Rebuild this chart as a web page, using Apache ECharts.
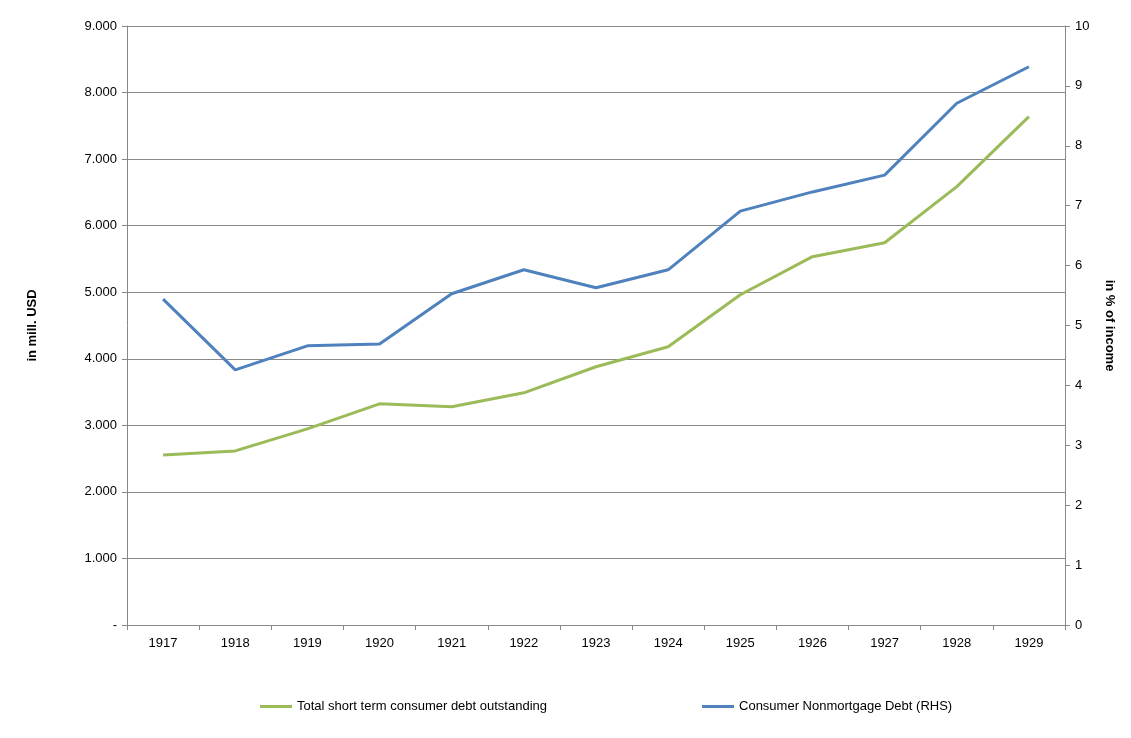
<!DOCTYPE html>
<html><head><meta charset="utf-8">
<script src="https://cdn.jsdelivr.net/npm/echarts@6/dist/echarts.min.js"></script>
<style>body{margin:0;background:#fff}#c{width:1131px;height:738px}</style>
</head><body><div id="c"></div>
<script>
var years = ['1917','1918','1919','1920','1921','1922','1923','1924','1925','1926','1927','1928','1929'];
var shortTermDebt = [2556,2616,2947,3323,3278,3489,3880,4180,4962,5534,5744,6586,7639];
var nonmortgagePct = [5.44,4.26,4.66,4.69,5.53,5.93,5.63,5.93,6.91,7.23,7.51,8.71,9.32];

var chart = echarts.init(document.getElementById('c'));
var txt = {color:'#000', fontFamily:'Liberation Sans', fontSize:13};
chart.setOption({
  animation:false,
  grid:{left:127, right:66, top:26, bottom:113},
  legend:{bottom:20, left:255, itemGap:155, itemWidth:32, itemHeight:3, icon:'rect',
    textStyle:txt,
    data:['Total short term consumer debt outstanding','Consumer Nonmortgage Debt (RHS)']},
  xAxis:{type:'category', data:years, boundaryGap:true,
    axisLine:{lineStyle:{color:'#888'}}, axisTick:{show:true, lineStyle:{color:'#888'}},
    axisLabel:Object.assign({margin:12}, txt)},
  yAxis:[
    {type:'value', min:0, max:9000, interval:1000, name:'in mill. USD',
     nameLocation:'middle', nameGap:88, nameRotate:90,
     nameTextStyle:{fontWeight:'bold', fontSize:13, fontFamily:'Liberation Sans', color:'#000'},
     axisLine:{show:true, lineStyle:{color:'#888'}}, axisTick:{show:true, lineStyle:{color:'#888'}},
     splitLine:{lineStyle:{color:'#8a8a8a'}},
     axisLabel:Object.assign({margin:10, formatter:function(v){return v===0?'-':(v/1000).toFixed(3);}}, txt)},
    {type:'value', min:0, max:10, interval:1, name:'in % of income',
     nameLocation:'middle', nameGap:38, nameRotate:-90,
     nameTextStyle:{fontWeight:'bold', fontSize:13, fontFamily:'Liberation Sans', color:'#000'},
     axisLine:{show:true, lineStyle:{color:'#888'}}, axisTick:{show:true, lineStyle:{color:'#888'}},
     splitLine:{show:false}, axisLabel:Object.assign({margin:10}, txt)}
  ],
  series:[
    {name:'Total short term consumer debt outstanding', type:'line', data:shortTermDebt,
     yAxisIndex:0, symbol:'none', lineStyle:{width:3, color:'#9bbb59'}, itemStyle:{color:'#9bbb59'}},
    {name:'Consumer Nonmortgage Debt (RHS)', type:'line', data:nonmortgagePct,
     yAxisIndex:1, symbol:'none', lineStyle:{width:3, color:'#4f81bd'}, itemStyle:{color:'#4f81bd'}}
  ]
});
</script></body></html>
